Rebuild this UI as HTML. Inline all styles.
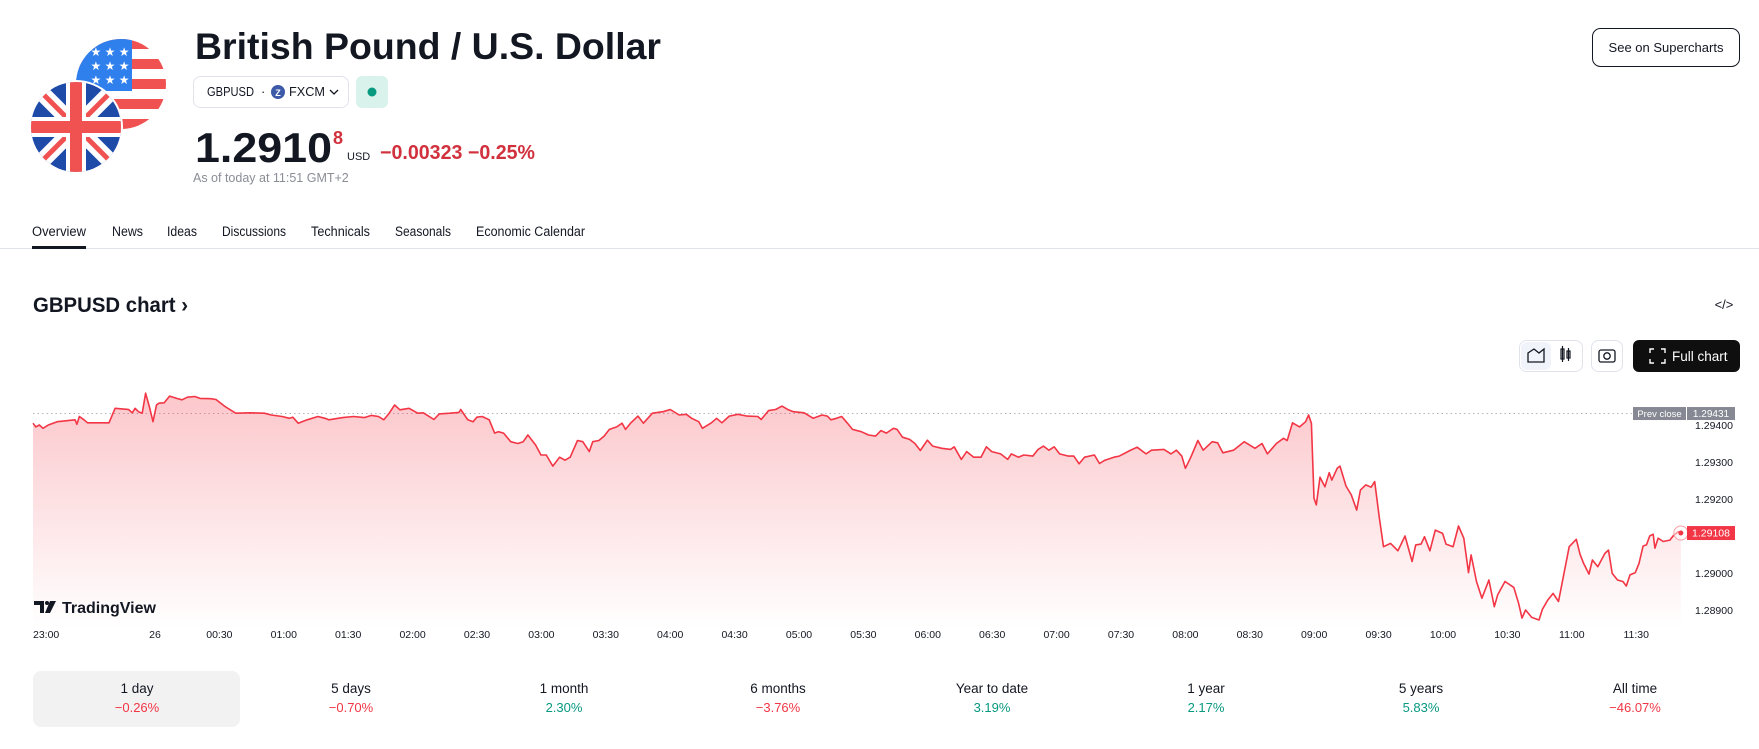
<!DOCTYPE html>
<html><head><meta charset="utf-8"><style>
html,body{margin:0;padding:0;background:#fff;}
body{width:1759px;height:749px;overflow:hidden;position:relative;font-family:"Liberation Sans",sans-serif;}
svg{position:absolute;left:0;top:0;}
text{font-family:"Liberation Sans",sans-serif;}
</style></head><body>
<svg id="page" width="1759" height="749" viewBox="0 0 1759 749" xmlns="http://www.w3.org/2000/svg">
<defs>
 <clipPath id="usClip"><circle cx="121" cy="84" r="45"/></clipPath>
 <clipPath id="ukClip"><circle cx="76" cy="127" r="45"/></clipPath>
 <linearGradient id="areaGrad" x1="0" y1="0" x2="0" y2="1">
  <stop offset="0" stop-color="#f23645" stop-opacity="0.28"/>
  <stop offset="1" stop-color="#f23645" stop-opacity="0.0"/>
 </linearGradient>
</defs>

<!-- Flags -->
<g clip-path="url(#usClip)">
 <rect x="76" y="39" width="90" height="90" fill="#fff"/>
 <rect x="76" y="39" width="90" height="10" fill="#f05252"/>
 <rect x="76" y="59" width="90" height="10" fill="#f05252"/>
 <rect x="76" y="79" width="90" height="10" fill="#f05252"/>
 <rect x="76" y="99" width="90" height="10" fill="#f05252"/>
 <rect x="76" y="119" width="90" height="10" fill="#f05252"/>
 <rect x="76" y="39" width="56" height="52" fill="#2f80ed"/>
 <text x="110" y="56" font-size="12" fill="#fff" text-anchor="middle">★ ★ ★</text>
 <text x="110" y="70" font-size="12" fill="#fff" text-anchor="middle">★ ★ ★</text>
 <text x="110" y="84" font-size="12" fill="#fff" text-anchor="middle">★ ★ ★</text>
</g>
<circle cx="76" cy="127" r="47" fill="#fff"/>
<g clip-path="url(#ukClip)">
 <rect x="31" y="82" width="90" height="90" fill="#1e4aa8"/>
 <line x1="31" y1="82" x2="121" y2="172" stroke="#fff" stroke-width="16"/>
 <line x1="121" y1="82" x2="31" y2="172" stroke="#fff" stroke-width="16"/>
 <line x1="31" y1="82" x2="121" y2="172" stroke="#f05252" stroke-width="5"/>
 <line x1="121" y1="82" x2="31" y2="172" stroke="#f05252" stroke-width="5"/>
 <rect x="66" y="82" width="20" height="90" fill="#fff"/>
 <rect x="31" y="117" width="90" height="20" fill="#fff"/>
 <rect x="70" y="82" width="12" height="90" fill="#f05252"/>
 <rect x="31" y="121" width="90" height="12" fill="#f05252"/>
</g>

<!-- Header -->
<text x="195" y="59" font-size="37" font-weight="bold" fill="#131722" textLength="466" lengthAdjust="spacingAndGlyphs">British Pound / U.S. Dollar</text>
<g>
 <rect x="193.5" y="76.5" width="155" height="31" rx="7" fill="#fff" stroke="#e0e3eb"/>
 <text x="207" y="96" font-size="13" fill="#131722" textLength="47" lengthAdjust="spacingAndGlyphs">GBPUSD</text>
 <text x="261" y="96" font-size="13" fill="#131722">·</text>
 <circle cx="278" cy="92" r="7" fill="#3d5aa8"/>
 <text x="278" y="96" font-size="9" fill="#fff" text-anchor="middle" font-weight="bold">Z</text>
 <text x="289" y="96" font-size="13" fill="#131722" textLength="36" lengthAdjust="spacingAndGlyphs">FXCM</text>
 <path d="M330 90 L334 94 L338 90" fill="none" stroke="#131722" stroke-width="1.3"/>
</g>
<g>
 <rect x="356" y="76" width="32" height="32" rx="6" fill="#daf2ec"/>
 <circle cx="372" cy="92" r="4.5" fill="#089981"/>
</g>
<text x="195" y="162" font-size="42" font-weight="bold" fill="#131722" textLength="137" lengthAdjust="spacingAndGlyphs">1.2910</text>
<text x="333" y="144" font-size="18" font-weight="bold" fill="#d1313d">8</text>
<text x="347" y="160" font-size="11" fill="#131722">USD</text>
<text x="380" y="159" font-size="20" font-weight="bold" fill="#d1313d" textLength="155" lengthAdjust="spacingAndGlyphs">−0.00323 −0.25%</text>
<text x="193" y="182" font-size="12.5" fill="#8a8d96">As of today at 11:51 GMT+2</text>

<g>
 <rect x="1592.5" y="28.5" width="147" height="38" rx="8" fill="#fff" stroke="#131722"/>
 <text x="1666" y="52" font-size="13" fill="#131722" text-anchor="middle">See on Supercharts</text>
</g>

<!-- Tabs -->
<g font-size="13.5" fill="#131722">
 <text x="32" y="236" textLength="54" lengthAdjust="spacingAndGlyphs">Overview</text>
 <text x="112" y="236" textLength="31" lengthAdjust="spacingAndGlyphs">News</text>
 <text x="167" y="236" textLength="30" lengthAdjust="spacingAndGlyphs">Ideas</text>
 <text x="222" y="236" textLength="64" lengthAdjust="spacingAndGlyphs">Discussions</text>
 <text x="311" y="236" textLength="59" lengthAdjust="spacingAndGlyphs">Technicals</text>
 <text x="395" y="236" textLength="56" lengthAdjust="spacingAndGlyphs">Seasonals</text>
 <text x="476" y="236" textLength="109" lengthAdjust="spacingAndGlyphs">Economic Calendar</text>
</g>
<rect x="0" y="248" width="1759" height="1" fill="#e0e3eb"/>
<rect x="32" y="246" width="54" height="3" fill="#131722"/>

<!-- Chart header -->
<text x="33" y="312" font-size="21" font-weight="bold" fill="#131722" textLength="155" lengthAdjust="spacingAndGlyphs">GBPUSD chart ›</text>
<text x="1724" y="309" font-size="13" fill="#131722" text-anchor="middle">&lt;/&gt;</text>
<g>
 <rect x="1519.5" y="340.5" width="63" height="31" rx="7" fill="#fff" stroke="#e0e3eb"/>
 <rect x="1521" y="342" width="30" height="28" rx="6" fill="#f0f3fa"/>
 <path d="M1528 362 L1528 353 L1534 349 L1539 353 L1544 349 L1544 362 Z" fill="none" stroke="#131722" stroke-width="1.3"/>
 <rect x="1561" y="349" width="3" height="10" fill="none" stroke="#131722" stroke-width="1.2"/>
 <line x1="1562.5" y1="346" x2="1562.5" y2="362" stroke="#131722" stroke-width="1.2"/>
 <rect x="1567" y="351" width="3" height="7" fill="none" stroke="#131722" stroke-width="1.2"/>
 <line x1="1568.5" y1="348" x2="1568.5" y2="361" stroke="#131722" stroke-width="1.2"/>
</g>
<g>
 <rect x="1591.5" y="340.5" width="31" height="31" rx="7" fill="#fff" stroke="#e0e3eb"/>
 <rect x="1599" y="350" width="16" height="12" rx="2" fill="none" stroke="#131722" stroke-width="1.3"/>
 <circle cx="1607" cy="356" r="3.2" fill="none" stroke="#131722" stroke-width="1.3"/>
</g>
<g>
 <rect x="1633" y="340" width="107" height="32" rx="6" fill="#0f0f0f"/>
 <path d="M1650 353 v-4 h4 M1661 349 h4 v4 M1665 359 v4 h-4 M1654 363 h-4 v-4" fill="none" stroke="#fff" stroke-width="1.4"/>
 <text x="1672" y="361" font-size="13.5" fill="#fff">Full chart</text>
</g>

<g id="chart"></g>

<!-- TradingView logo -->
<g>
 <path d="M34 601 h10 v12 h-4 v-8 h-6 Z" fill="#131722"/>
 <circle cx="47" cy="603" r="2" fill="#131722"/>
 <path d="M50 601 h6 l-6 12 h-5 Z" fill="#131722"/>
 <text x="62" y="613" font-size="16" font-weight="bold" fill="#131722">TradingView</text>
</g>

<g id="periods"></g>
</svg>
<script>
// ---- Chart data ----
const times = [-60,-58.6,-56.9,-55.1,-52.5,-48.1,-42.8,-39.3,-38.4,-37.2,-34.9,-33.2,-27,-22.6,-19.6,-13,-11.2,-9.8,-8.1,-6.3,-4.6,-2.8,-1,
0.7,1.8,4.3,6.8,10.1,12.6,15.1,18.5,21,26,28.4,32.6,37.6,44.3,50.9,54.2,59.2,62.6,64.2,66.7,70.9,75.9,79.2,80.9,87.5,92.5,97.5,100.8,104.1,106.6,109.1,111.6,114.1,118.3,122.4,125,127.4,129.9,132.4,137.4,141.6,142.4,145.7,148.2,149.9,152.4,155.7,158.2,159.9,162.4,165.7,169,171.5,173.7,177.3,179.8,182.3,185.3,
188.5,191,193.4,196.8,199.3,202.3,203.9,206.8,209.2,211.7,215.1,217.6,219.2,221.7,225,227.5,231.7,236.7,240,244.2,247.5,250,253.3,255,259.2,261.6,264.1,267.5,271.6,275.8,280.8,282.4,285.8,289.1,292.1,295,297.4,302.4,306.6,310.7,313.2,314.9,317.4,319.9,322.4,324.9,329,332.4,335.7,338.2,340.7,344,345.7,348.2,351.5,354,356.5,359.8,362.3,366.5,370.6,372.3,375.6,378.1,381.4,384.8,387.3,389.8,393.9,397.2,398.9,402.2,404.7,408.9,411.4,413.9,416.4,418.9,421.4,425.5,428,430.5,433,
437.6,440,442.5,446.7,449.2,454.2,457.5,461.7,464.2,470,473.3,475.8,478.3,480,482.5,485.8,488.3,492.5,495,497.4,502.4,507.4,512.4,515.7,518.2,522.4,525.7,527.4,529.9,533.2,536,537.4,538.7,539.9,541,542.7,545,547,548.2,550.7,552,554.8,557.3,559.8,561.5,564,566.5,568.2,570.3,572.3,575.6,579,582.3,585.6,587.3,589.8,591.4,593.9,596.4,599.8,601.4,604.7,607.2,609.7,611.9,613.1,615.6,618.1,621.4,623.9,625.5,628.9,633,635.2,636.8,638.5,641.3,644.7,646.3,648.8,651.3,653.8,658.8,662.1,663.8,665.5,668,669.6,672.1,675.4,677.1,678.8,681.3,683.8,685.4,687.1,689.6,691.3,
693.2,694.8,696.3,697.9,698.7,700.2,702.6,705.7,707.2,709.5,710.8];
const prices = [1.29405,1.29395,1.29400,1.29391,1.29400,1.29409,1.29412,1.29414,1.29402,1.29423,1.29414,1.29406,1.29406,1.29406,1.29445,1.29442,1.29433,1.29445,1.29436,1.29432,1.29486,1.29450,1.29409,
1.29454,1.29459,1.29460,1.29478,1.29472,1.29468,1.29475,1.29477,1.29472,1.29471,1.29469,1.29450,1.29432,1.29433,1.29432,1.29427,1.29423,1.29418,1.29421,1.29405,1.29414,1.29423,1.29418,1.29414,1.29420,1.29423,1.29420,1.29426,1.29423,1.29414,1.29432,1.29454,1.29441,1.29445,1.29432,1.29433,1.29424,1.29415,1.29430,1.29432,1.29434,1.29442,1.29414,1.29409,1.29421,1.29423,1.29414,1.29378,1.29382,1.29378,1.29355,1.29350,1.29355,1.29373,1.29346,1.29319,1.29319,1.29289,
1.29313,1.29305,1.29313,1.29358,1.29355,1.29328,1.29355,1.29358,1.29370,1.29388,1.29395,1.29405,1.29388,1.29406,1.29424,1.29405,1.29432,1.29436,1.29442,1.29427,1.29429,1.29418,1.29409,1.29391,1.29406,1.29418,1.29406,1.29424,1.29429,1.29424,1.29423,1.29415,1.29439,1.29442,1.29451,1.29441,1.29436,1.29433,1.29418,1.29427,1.29424,1.29414,1.29418,1.29423,1.29406,1.29388,1.29382,1.29373,1.29370,1.29385,1.29378,1.29391,1.29388,1.29367,1.29361,1.29350,1.29331,1.29359,1.29343,1.29337,1.29334,1.29341,1.29307,1.29328,1.29313,1.29313,1.29341,1.29328,1.29322,1.29307,1.29322,1.29313,1.29319,1.29316,1.29334,1.29343,1.29332,1.29341,1.29322,1.29316,1.29316,1.29295,1.29313,
1.29319,1.29296,1.29305,1.29313,1.29316,1.29331,1.29340,1.29322,1.29332,1.29334,1.29322,1.29332,1.29316,1.29283,1.29313,1.29358,1.29332,1.29355,1.29352,1.29325,1.29332,1.29355,1.29337,1.29350,1.29322,1.29350,1.29364,1.29358,1.29406,1.29395,1.29409,1.29427,1.29405,1.29202,1.29184,1.29259,1.29233,1.29271,1.29251,1.29283,1.29289,1.29235,1.29211,1.29170,1.29224,1.29238,1.29232,1.29247,1.29152,1.29071,1.29080,1.29060,1.29100,1.29031,1.29076,1.29078,1.29098,1.29060,1.29116,1.29107,1.29078,1.29071,1.29127,1.29094,1.29001,1.29049,1.28977,1.28932,1.28981,1.28909,1.28941,1.28977,1.28961,1.28918,1.28878,1.28900,1.28880,1.28873,1.28902,1.28927,1.28945,1.28923,1.29071,1.29091,1.29051,1.29026,1.28997,1.29035,1.29017,1.29053,1.29062,1.28999,1.28981,1.28977,1.28965,1.28995,1.29001,1.29026,
1.29073,1.29076,1.29100,1.29105,1.29067,1.29094,1.29085,1.29089,1.29100,1.29112,1.29108];
const prevClose = 1.29431;
const lastPrice = 1.29108;
const yTicks = [1.294, 1.293, 1.292, 1.290, 1.289];
const xTickTimes = [-60, 0, 30, 60, 90, 120, 150, 180, 210, 240, 270, 300, 330, 360, 390, 420, 450, 480, 510, 540, 570, 600, 630, 660, 690];
const xTickLabels = ["23:00","26","00:30","01:00","01:30","02:00","02:30","03:00","03:30","04:00","04:30","05:00","05:30","06:00","06:30","07:00","07:30","08:00","08:30","09:00","09:30","10:00","10:30","11:00","11:30"];
const periodLabels = ["1 day","5 days","1 month","6 months","Year to date","1 year","5 years","All time"];
const periodValues = ["−0.26%","−0.70%","2.30%","−3.76%","3.19%","2.17%","5.83%","−46.07%"];
const periodUp = [false,false,true,false,true,true,true,false];

const NS = "http://www.w3.org/2000/svg";
function xScale(t){ return t < 0 ? 33 + (t + 60) / 60 * 122 : 155 + t * 64.4 / 30; }
function yScale(p){ return 425 - (p - 1.294) * 37000; }
function mk(tag, attrs, parent){ const e = document.createElementNS(NS, tag); for (const k in attrs) e.setAttribute(k, attrs[k]); parent.appendChild(e); return e; }

const chart = document.getElementById('chart');
const plotBottom = 628;
const xRight = 1685;

const pcl = mk('line', {x1:33, x2:xRight, y1:yScale(prevClose), y2:yScale(prevClose), stroke:'#b2b5be', 'stroke-width':1, 'stroke-dasharray':'1.5 3'}, chart);



let d = '';
for (let i = 0; i < times.length; i++) d += (i ? 'L' : 'M') + xScale(times[i]).toFixed(1) + ' ' + yScale(prices[i]).toFixed(1) + ' ';
const lastX = xScale(times[times.length - 1]);
const area = mk('path', {d: d + 'L' + lastX.toFixed(1) + ' ' + plotBottom + ' L' + xScale(times[0]).toFixed(1) + ' ' + plotBottom + ' Z', fill:'url(#areaGrad)'}, chart);


const line = mk('path', {d: d, fill:'none', stroke:'#f23645', 'stroke-width':1.6, 'stroke-linejoin':'round'}, chart);



const lastY = yScale(prices[prices.length - 1]);
const ring = mk('circle', {cx:lastX, cy:lastY, r:7, fill:'#fff', 'fill-opacity':0.5, stroke:'#f7a1a8', 'stroke-width':1}, chart);


const dot = mk('circle', {cx:lastX, cy:lastY, r:2.5, fill:'#f23645'}, chart);



yTicks.forEach(v => {
  const t = mk('text', {x:1695, y:yScale(v) + 4, 'font-size':10.5, fill:'#131722'}, chart);
  t.textContent = v.toFixed(5);
  
  
});

const pcy = yScale(prevClose);
const pcb = mk('g', {}, chart);


mk('rect', {x:1633, y:pcy - 6.5, width:53, height:13, fill:'#868993'}, pcb);
mk('rect', {x:1687, y:pcy - 6.5, width:48, height:13, fill:'#868993'}, pcb);
const pct = mk('text', {x:1659.5, y:pcy + 3.5, 'font-size':9.5, fill:'#fff', 'text-anchor':'middle'}, pcb); pct.textContent = 'Prev close';
const pcv = mk('text', {x:1711, y:pcy + 3.5, 'font-size':10, fill:'#fff', 'text-anchor':'middle'}, pcb); pcv.textContent = prevClose.toFixed(5);

const lpy = yScale(lastPrice);
const lpb = mk('g', {}, chart);


mk('rect', {x:1687, y:lpy - 7, width:48, height:14, fill:'#f23645'}, lpb);
const lpt = mk('text', {x:1711, y:lpy + 3.5, 'font-size':10.5, fill:'#fff', 'text-anchor':'middle'}, lpb); lpt.textContent = lastPrice.toFixed(5);

xTickTimes.forEach((tm, i) => {
  const first = i === 0;
  const t = mk('text', {x:first ? 33 : xScale(tm), y:638, 'font-size':10.5, fill:'#131722', 'text-anchor':first ? 'start' : 'middle'}, chart);
  t.textContent = xTickLabels[i];
  
  
});

const periods = document.getElementById('periods');
const centers = [137, 351, 564, 778, 992, 1206, 1421, 1635];
periodLabels.forEach((lab, i) => {
  const g = mk('g', {}, periods);
  
  
  if (i === 0) mk('rect', {x:33, y:671, width:207, height:56, rx:8, fill:'#f2f2f2'}, g);
  const a = mk('text', {x:centers[i], y:693, 'font-size':13.5, fill:'#131722', 'text-anchor':'middle'}, g); a.textContent = lab;
  const b = mk('text', {x:centers[i], y:712, 'font-size':13, fill:periodUp[i] ? '#089981' : '#f23645', 'text-anchor':'middle'}, g); b.textContent = periodValues[i];
});
</script>
</body></html>
